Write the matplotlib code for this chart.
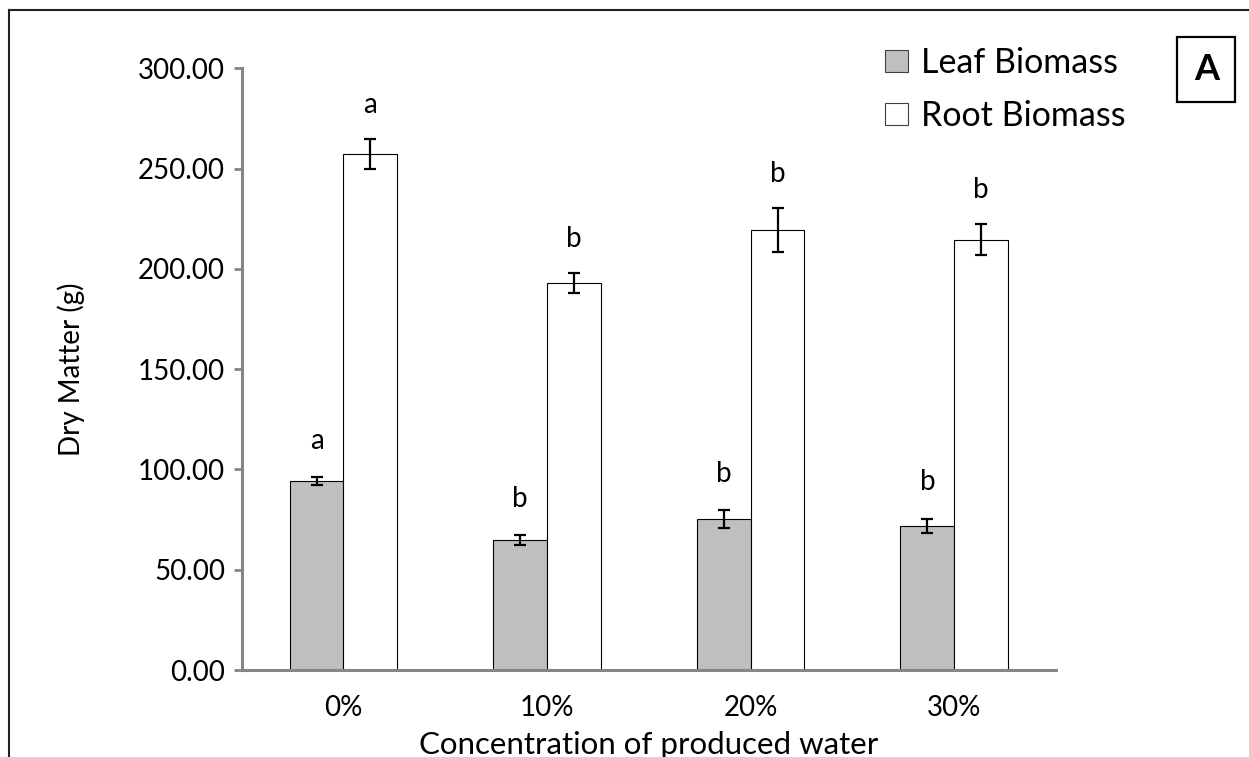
import numpy as np
import matplotlib.pyplot as plt
from matplotlib.lines import Line2D
from matplotlib.patches import Patch

plt.rcParams['font.family'] = ['Lato', 'DejaVu Sans']

# dry matter per produced water concentration
concentrations = ['0%', '10%', '20%', '30%']
leaf_mean = [94.3, 64.8, 75.3, 71.8]
leaf_err = [2.1, 2.4, 4.4, 3.7]
root_mean = [257.2, 193.0, 219.3, 214.6]
root_err = [7.3, 5.0, 11.0, 7.5]
leaf_letters = ['a', 'b', 'b', 'b']
root_letters = ['a', 'b', 'b', 'b']

fig = plt.figure(figsize=(12.49, 7.57), dpi=100)
ax = fig.add_axes([0.1935, 0.1149, 0.652, 0.795])

x = np.arange(len(concentrations))
w = 0.264
ax.bar(x - w / 2, leaf_mean, w, color='#bfbfbf', edgecolor='black', linewidth=0.8, zorder=2)
ax.bar(x + w / 2, root_mean, w, color='white', edgecolor='black', linewidth=0.8, zorder=2)
ax.errorbar(x - w / 2, leaf_mean, yerr=leaf_err, fmt='none', ecolor='black',
            elinewidth=1.6, capsize=4.5, capthick=1.6, zorder=3)
ax.errorbar(x + w / 2, root_mean, yerr=root_err, fmt='none', ecolor='black',
            elinewidth=1.6, capsize=4.5, capthick=1.6, zorder=3)

# significance letters above error bars
for i in range(len(concentrations)):
    ax.text(x[i] - w / 2, leaf_mean[i] + leaf_err[i] + 18, leaf_letters[i],
            ha='center', va='center', fontsize=20)
    ax.text(x[i] + w / 2, root_mean[i] + root_err[i] + 17, root_letters[i],
            ha='center', va='center', fontsize=20)

ax.set_xlim(-0.5, len(concentrations) - 0.5)
ax.set_ylim(0, 300)
ax.set_yticks(np.arange(0, 301, 50))
ax.set_yticklabels(['%.2f' % v for v in np.arange(0, 301, 50)])
ax.set_xticks(x)
ax.set_xticklabels(concentrations)
ax.tick_params(axis='y', length=6, width=2, color='#868686', labelsize=20, pad=6)
ax.tick_params(axis='x', length=0, labelsize=20, pad=18)

for side in ['top', 'right']:
    ax.spines[side].set_visible(False)
for side in ['left', 'bottom']:
    ax.spines[side].set_color('#868686')
    ax.spines[side].set_linewidth(2.2)

ax.set_ylabel('Dry Matter (g)', fontsize=20, labelpad=38)
ax.set_xlabel('Concentration of produced water', fontsize=22.5, labelpad=7)

handles = [Patch(facecolor='#bfbfbf', edgecolor='#404040', linewidth=0.8),
           Patch(facecolor='white', edgecolor='#404040', linewidth=0.8)]
fig.legend(handles, ['Leaf Biomass', 'Root Biomass'], loc='upper left',
           bbox_to_anchor=(0.698, 0.956), frameon=False, fontsize=24.5,
           handlelength=0.65, handleheight=0.65, handletextpad=0.4,
           labelspacing=0.62, borderaxespad=0)

# panel tag
fig.text(0.9658, 0.908, 'A', fontsize=26, fontweight='bold', ha='center', va='center',
         bbox=dict(boxstyle='square,pad=0.45', facecolor='white', edgecolor='black', linewidth=1.6))

# frame around the figure (left and top edges)
fig.add_artist(Line2D([0.0075, 0.0075], [0.0, 0.987], color='#222222', linewidth=1.5,
                      transform=fig.transFigure))
fig.add_artist(Line2D([0.0075, 1.0], [0.987, 0.987], color='#222222', linewidth=1.5,
                      transform=fig.transFigure))

fig.savefig('out.png', dpi=100)
